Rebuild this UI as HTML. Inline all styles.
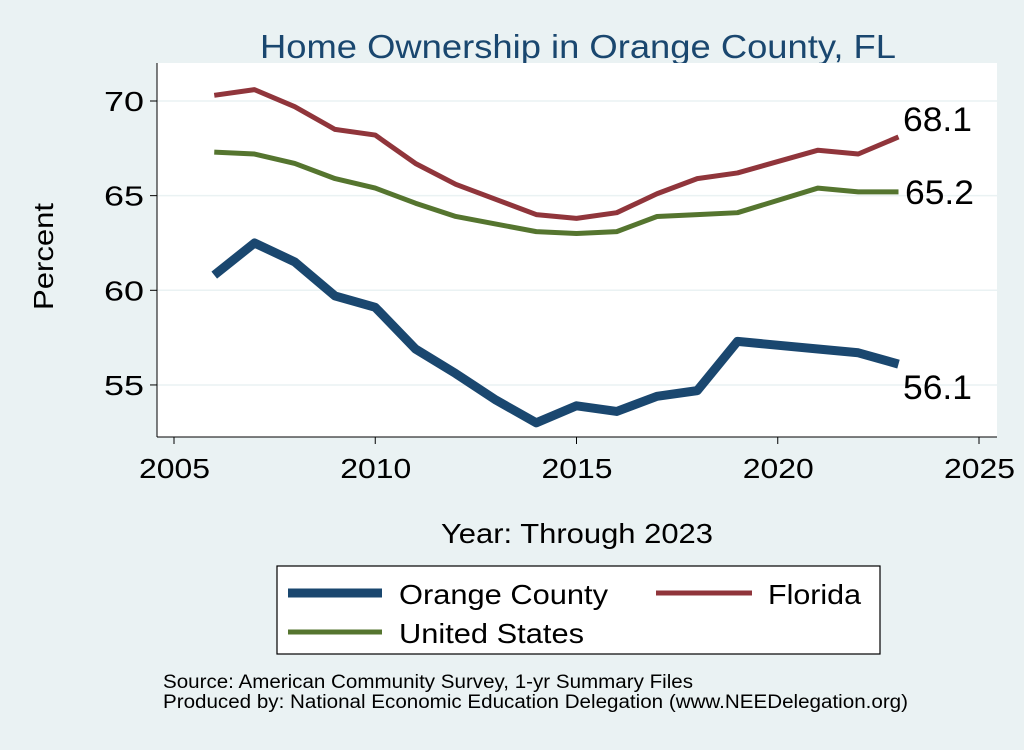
<!DOCTYPE html>
<html><head><meta charset="utf-8"><style>
body{margin:0;background:#eaf2f3;font-family:"Liberation Sans",sans-serif}
</style></head><body>
<svg width="1024" height="745" xmlns="http://www.w3.org/2000/svg" font-family="Liberation Sans, sans-serif">
<rect width="1024" height="745" fill="#eaf2f3"/>
<text x="260" y="58" font-size="33" fill="#1a476f" textLength="636" lengthAdjust="spacingAndGlyphs">Home Ownership in Orange County, FL</text>
<rect x="157" y="63" width="840" height="374" fill="#fff"/>
<g id="grid"></g><g id="axes"></g><g id="series"></g>
<text x="53" y="310" font-size="28" textLength="107" lengthAdjust="spacingAndGlyphs" transform="rotate(-90 53 310)">Percent</text>
<text x="441" y="543" font-size="28" textLength="272" lengthAdjust="spacingAndGlyphs">Year: Through 2023</text>
<g>
<rect x="277" y="566" width="603" height="88" fill="#fff" stroke="#000" stroke-width="1.2"/>
<line x1="288" y1="593" x2="382" y2="593" stroke="#1a476f" stroke-width="9"/>
<text x="399" y="604" font-size="28" textLength="209" lengthAdjust="spacingAndGlyphs">Orange County</text>
<line x1="656" y1="593" x2="752" y2="593" stroke="#90353b" stroke-width="5"/>
<text x="768" y="604" font-size="28" textLength="93" lengthAdjust="spacingAndGlyphs">Florida</text>
<line x1="288" y1="632" x2="382" y2="632" stroke="#55752f" stroke-width="5"/>
<text x="399" y="643" font-size="28" textLength="185" lengthAdjust="spacingAndGlyphs">United States</text>
</g>
<text x="163" y="688" font-size="19" textLength="530" lengthAdjust="spacingAndGlyphs">Source: American Community Survey, 1-yr Summary Files</text>
<text x="163" y="708" font-size="19" textLength="745" lengthAdjust="spacingAndGlyphs">Produced by: National Economic Education Delegation (www.NEEDelegation.org)</text>
</svg>
<script>
const years=[2006,2007,2008,2009,2010,2011,2012,2013,2014,2015,2016,2017,2018,2019,2021,2022,2023];
const orange=[60.8,62.5,61.5,59.7,59.1,56.9,55.6,54.2,53.0,53.9,53.6,54.4,54.7,57.3,56.9,56.7,56.1];
const florida=[70.3,70.6,69.7,68.5,68.2,66.7,65.6,64.8,64.0,63.8,64.1,65.1,65.9,66.2,67.4,67.2,68.1];
const us=[67.3,67.2,66.7,65.9,65.4,64.6,63.9,63.5,63.1,63.0,63.1,63.9,64.0,64.1,65.4,65.2,65.2];
const yTicks=[55,60,65,70];
const xTicks=[2005,2010,2015,2020,2025];
const X=v=>174+(v-2005)*40.25, Y=v=>101+(70-v)*18.93;
const NS="http://www.w3.org/2000/svg";
function mk(p,t,a){const e=document.createElementNS(NS,t);for(const k in a)e.setAttribute(k,a[k]);document.getElementById(p).appendChild(e);return e;}
yTicks.forEach(t=>{
 const g=mk('grid','line',{x1:157,x2:997,y1:Y(t),y2:Y(t),stroke:'#eaf2f3','stroke-width':1.5});
 
 
 const tk=mk('axes','line',{x1:150,x2:157,y1:Y(t),y2:Y(t),stroke:'#000'});
 
 
 const l=mk('axes','text',{x:144,y:Y(t)+10,'font-size':28,'text-anchor':'end',textLength:40,lengthAdjust:'spacingAndGlyphs'});l.textContent=t;
 
 
});
const ya=mk('axes','line',{x1:157,x2:157,y1:63,y2:437,stroke:'#000'});


const xa=mk('axes','line',{x1:157,x2:997,y1:437,y2:437,stroke:'#000'});


xTicks.forEach(t=>{
 const tk=mk('axes','line',{x1:X(t),x2:X(t),y1:437,y2:444,stroke:'#000'});
 
 
 const l=mk('axes','text',{x:X(t)-35,y:478,'font-size':28,textLength:71,lengthAdjust:'spacingAndGlyphs'});l.textContent=t;
 
 
});
function line(vals,color,w,name,lx,ldy){
 const p=mk('series','polyline',{points:years.map((y,i)=>X(y)+','+Y(vals[i])).join(' '),fill:'none',stroke:color,'stroke-width':w,'stroke-linejoin':'round'});
 
 
 const last=vals[vals.length-1];
 const t=mk('series','text',{x:lx,y:Y(last)+ldy,'font-size':34,textLength:69,lengthAdjust:'spacingAndGlyphs'});t.textContent=last.toFixed(1);
 
 
}
line(us,'#55752f',5,'united-states-line',905,12);
line(florida,'#90353b',5,'florida-line',903,-6);
line(orange,'#1a476f',9,'orange-county-line',903,35);
</script>
</body></html>
